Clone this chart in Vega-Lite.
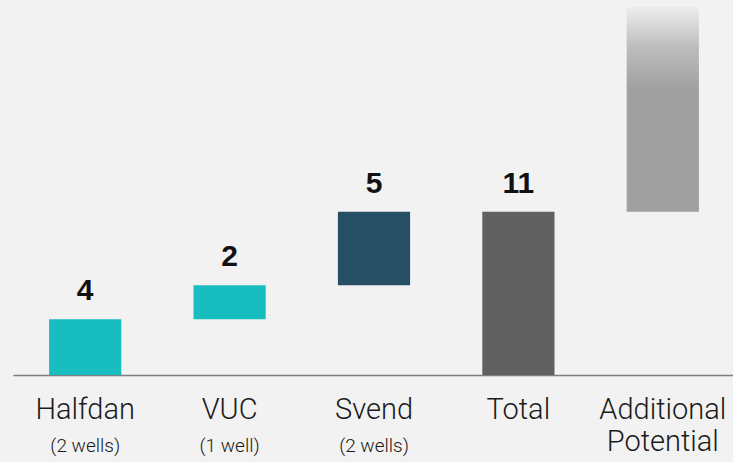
{
  "$schema": "https://vega.github.io/schema/vega-lite/v6.json",
  "autosize": "none",
  "width": 722,
  "height": 371,
  "padding": {"left": 13, "top": 4, "right": 0, "bottom": 87},
  "background": "#f2f2f2",
  "config": {"view": {"stroke": null}},
  "data": {
    "values": [
      {"name": "Halfdan", "start": 0, "end": 3.75, "label": "4", "sub": "(2 wells)"},
      {"name": "VUC", "start": 3.75, "end": 6.05, "label": "2", "sub": "(1 well)"},
      {"name": "Svend", "start": 6.05, "end": 11, "label": "5", "sub": "(2 wells)"},
      {"name": "Total", "start": 0, "end": 11, "label": "11", "sub": ""},
      {"name": "Additional Potential", "start": 11, "end": 24.8, "label": "", "sub": ""}
    ]
  },
  "encoding": {
    "x": {
      "field": "name",
      "type": "nominal",
      "sort": null,
      "scale": {"paddingInner": 0.5, "paddingOuter": 0.25},
      "axis": {
        "title": null,
        "labelAngle": 0,
        "ticks": false,
        "domainColor": "#7f7f7f",
        "domainWidth": 1.5,
        "labelFont": "Roboto",
        "labelFontWeight": 300,
        "labelFontSize": 29,
        "labelColor": "#1a1a1a",
        "labelPadding": 20,
        "labelLineHeight": 32,
        "labelExpr": "datum.value == 'Additional Potential' ? ['Additional', 'Potential'] : datum.value"
      }
    }
  },
  "layer": [
    {
      "transform": [{"filter": "datum.name != 'Additional Potential'"}],
      "mark": {"type": "bar"},
      "encoding": {
        "y": {"field": "start", "type": "quantitative", "scale": {"domain": [0, 25], "nice": false}, "axis": null},
        "y2": {"field": "end"},
        "color": {
          "field": "name",
          "type": "nominal",
          "scale": {"domain": ["Halfdan", "VUC", "Svend", "Total"], "range": ["#18bdc0", "#18bdc0", "#264f66", "#616161"]},
          "legend": null
        }
      }
    },
    {
      "transform": [{"filter": "datum.name == 'Additional Potential'"}],
      "mark": {
        "type": "bar",
        "color": {
          "gradient": "linear",
          "x1": 0, "y1": 1, "x2": 0, "y2": 0,
          "stops": [
            {"offset": 0, "color": "#a0a0a0"},
            {"offset": 0.6, "color": "#a0a0a0"},
            {"offset": 0.8, "color": "#bcbcbc"},
            {"offset": 1, "color": "#ededed"}
          ]
        }
      },
      "encoding": {
        "y": {"field": "start", "type": "quantitative"},
        "y2": {"field": "end"}
      }
    },
    {
      "mark": {"type": "text", "font": "Liberation Sans", "fontWeight": "bold", "fontSize": 30, "color": "#111111", "baseline": "alphabetic", "dy": -19},
      "encoding": {
        "y": {"field": "end", "type": "quantitative"},
        "text": {"field": "label"}
      }
    },
    {
      "mark": {"type": "text", "font": "Roboto", "fontWeight": 300, "fontSize": 19, "color": "#1a1a1a", "baseline": "alphabetic", "dy": 77},
      "encoding": {
        "y": {"datum": 0, "type": "quantitative"},
        "text": {"field": "sub"}
      }
    }
  ]
}
